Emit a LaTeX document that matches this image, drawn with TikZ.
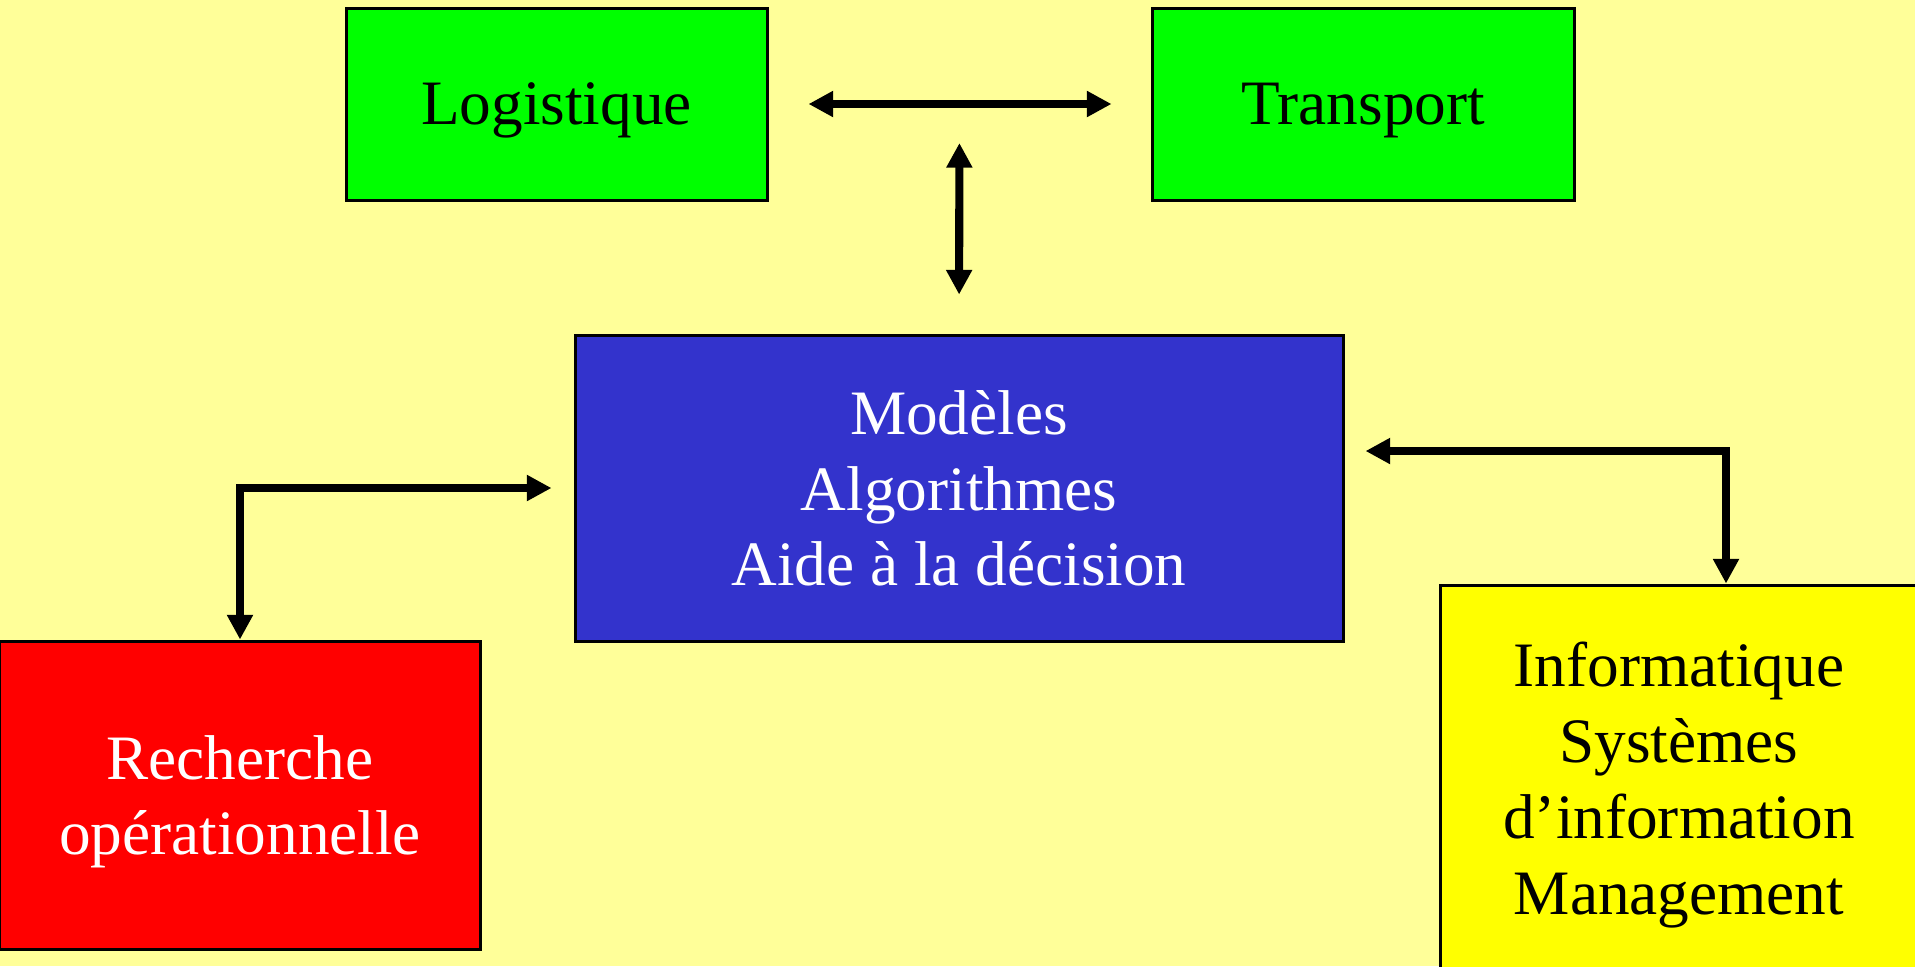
\documentclass[tikz,border=0pt]{standalone}
\usepackage{fontspec}
\setmainfont{Liberation Serif}
\usepackage{tikz}
\usetikzlibrary{arrows.meta}
\usetikzlibrary{calc}

\definecolor{slidebg}{HTML}{FFFF99}
\definecolor{boxgreen}{HTML}{00FF00}
\definecolor{boxblue}{HTML}{3333CC}
\definecolor{boxred}{HTML}{FF0000}
\definecolor{boxyellow}{HTML}{FFFF00}

\begin{document}
\begin{tikzpicture}[main_node/.style={rectangle,draw,line width=0.85pt,inner sep=0pt,align=center,text depth=-8pt,font=\fontsize{18pt}{21.6pt}\selectfont},
	link/.style={{Triangle[length=7pt,width=7pt]}-{Triangle[length=7pt,width=7pt]},line width=2.3pt}]
				
				\fill[slidebg] (0,0) rectangle (19.15,-9.66);
				\useasboundingbox (0,0) rectangle (19.15,-9.66);
				
				\node[main_node, fill=boxgreen, minimum width=4.21cm, minimum height=1.92cm] (log) at (5.565, -1.04) {Logistique};
				\node[main_node, fill=boxgreen, minimum width=4.22cm, minimum height=1.92cm] (trans) at (13.63, -1.04) {Transport};
				\node[main_node, fill=boxblue, text=white, minimum width=7.68cm, minimum height=3.06cm] (model) at (9.59, -4.88) {Modèles\\Algorithmes\\Aide à la décision};
				\node[main_node, fill=boxred, text=white, minimum width=4.80cm, minimum height=3.08cm] (rech) at (2.40, -7.95) {Recherche\\opérationnelle};
				\node[main_node, fill=boxyellow, text depth=0.9pt, minimum width=4.78cm, minimum height=3.90cm] (info) at (16.79, -7.80) {Informatique\\Systèmes\\d’information\\Management};
				
				\coordinate (mid) at ($(log.east)!0.5!(trans.west)$);
				
				\path[link]
				(log) edge[shorten <=0.4cm, shorten >=0.39cm] (trans)
				(model.north) edge[shorten <=0.39cm, shorten >=0.39cm] (mid);
				\draw[link, shorten >=0.22cm] (rech.north) |- (model.west);
				\draw[link, shorten <=0.21cm] ([yshift=0.37cm]model.east) -| ([xshift=0.47cm]info.north);
			\end{tikzpicture}
\end{document}
